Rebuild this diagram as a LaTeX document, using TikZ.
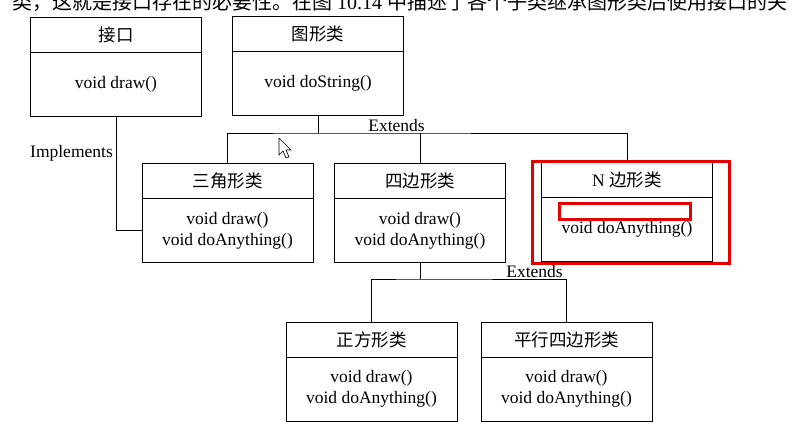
\documentclass[tikz,border=0pt]{standalone}
\usepackage{fontspec}
\setmainfont{Liberation Serif}
\newfontfamily\cjk{Noto Sans CJK SC}
\usetikzlibrary{positioning}

\begin{document}
\begin{tikzpicture}[
  x=10pt, y=-10pt,
  font=\fontsize{17.5}{21}\selectfont,
  head/.style={draw, line width=1pt, outer sep=0pt, inner sep=0pt,
               minimum width=171pt, minimum height=35pt},
  body/.style={draw, line width=1pt, outer sep=0pt, inner sep=0pt, align=center,
               minimum width=171pt, minimum height=64pt},
  e/.style={line width=1pt},
  redbox/.style={draw=red!90!black, line width=3pt}
]
\useasboundingbox (0,0) rectangle (79.3,43.4);
\clip (0,0) rectangle (79.3,43.4);

% cut-off book line
\node[anchor=base west, inner sep=0pt, font=\fontsize{20}{24}\selectfont] (bookline) at (1.2,0.9)
  {{\cjk 类，这就是接口存在的必要性。在图} 10.14 {\cjk 中描述了各个子类继承图形类后使用接口的关}};

% top row
\node[head] (ifaceh) at (11.6,3.45) {\cjk 接口};
\node[body, below=0pt of ifaceh] (ifaceb) {void draw()};
\node[head] (shapeh) at (31.8,3.35) {\cjk 图形类};
\node[body, below=0pt of shapeh] (shapeb) {void doString()};

% middle row
\node[head] (trih) at (22.75,18.1) {\cjk 三角形类};
\node[body, below=0pt of trih] (trib) {void draw()\\void doAnything()};
\node[head] (quadh) at (42.0,18.1) {\cjk 四边形类};
\node[body, below=0pt of quadh] (quadb) {void draw()\\void doAnything()};
\node[head] (ngonh) at (62.7,18.0) {N {\cjk 边形类}};
\node[body, below=0pt of ngonh] (ngonb) {void doAnything()};

% bottom row
\node[head] (sqh) at (37.15,33.95) {\cjk 正方形类};
\node[body, below=0pt of sqh] (sqb) {void draw()\\void doAnything()};
\node[head] (parh) at (56.65,33.95) {\cjk 平行四边形类};
\node[body, below=0pt of parh] (parb) {void draw()\\void doAnything()};

% connectors
\coordinate (ext1) at (31.8,13.3);
\coordinate (ext2) at (42.0,27.9);
\draw[e] (ifaceb.south) |- (trib.west);
\draw[e] (shapeb.south) -- (ext1);
\draw[e] (trih.north) |- (ext1) -| (ngonh.north);
\draw[e] (quadh.north) -- (quadh.north |- ext1);
\draw[e] (quadb.south) -- (ext2);
\draw[e] (sqh.north) |- (ext2) -| (parh.north);

\node[anchor=base east, inner sep=0pt] (impl) at (11.3,15.7) {Implements};
\node[anchor=base, inner sep=0pt] (extA) at (39.65,13.1) {Extends};
\node[anchor=base, inner sep=0pt] (extB) at (53.45,27.7) {Extends};

% highlight
\draw[redbox] (53.2,16.1) rectangle (72.9,26.3);
\draw[redbox] (55.9,20.3) rectangle (69.0,21.9);

% pointer
\draw[line width=0.6pt, fill=white] (27.9,13.8) -- (27.9,15.5) -- (28.3,15.1) -- (28.6,15.8)
  -- (28.9,15.7) -- (28.6,15.0) -- (29.1,15.0) -- cycle;

\end{tikzpicture}
\end{document}
